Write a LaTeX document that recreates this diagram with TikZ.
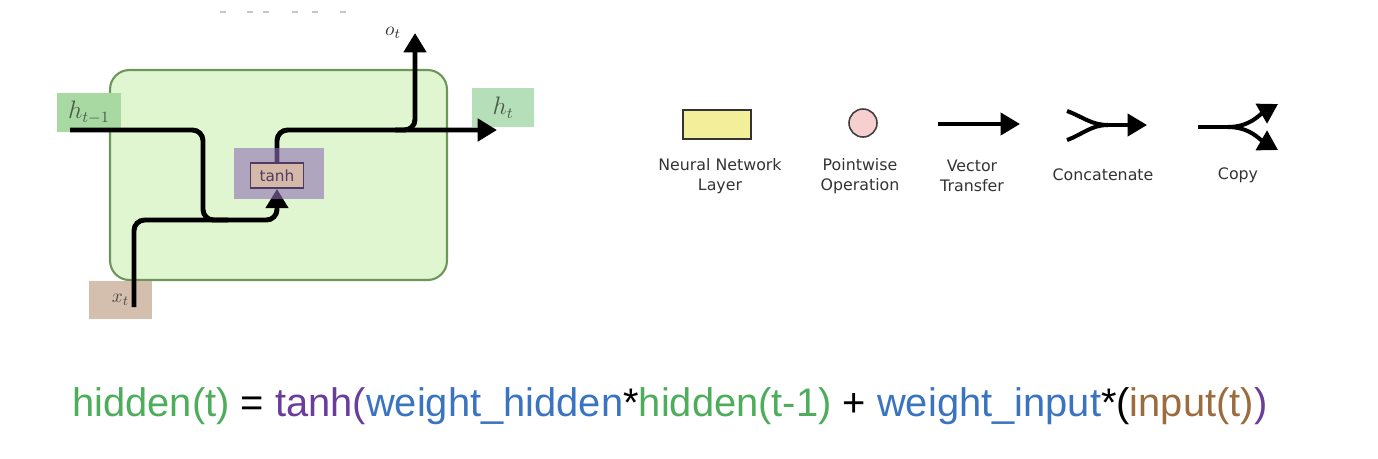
\documentclass[tikz,border=0pt]{standalone}
\usepackage{fontspec}
\newfontfamily\legendfont{DejaVu Sans}
\newfontfamily\eqfont{Liberation Sans}
\usetikzlibrary{arrows.meta}

\definecolor{cellfill}{HTML}{DFF6D0}
\definecolor{cellline}{HTML}{6E965A}
\definecolor{hinfill}{HTML}{A9D9A3}
\definecolor{houtfill}{HTML}{B4DFB8}
\definecolor{xinfill}{HTML}{D4BFAE}
\definecolor{tanhbgfill}{HTML}{8F6FB5}
\definecolor{tanhfill}{HTML}{D4B8A8}
\definecolor{tanhline}{HTML}{4F3B63}
\definecolor{labeltext}{HTML}{4B5A4B}
\definecolor{layerfill}{HTML}{F3EE9A}
\definecolor{pointfill}{HTML}{F8CFCF}
\definecolor{legtextcol}{HTML}{333333}
\definecolor{eqgreen}{HTML}{4EAD5B}
\definecolor{eqpurple}{HTML}{6A3D9A}
\definecolor{eqblue}{HTML}{3A74C0}
\definecolor{eqbrown}{HTML}{9A6C3E}

\pgfdeclarelayer{back}
\pgfdeclarelayer{front}
\pgfsetlayers{back,main,front}

\begin{document}
\begin{tikzpicture}[x=0.02cm, y=-0.02cm,
        cellbox/.style={draw=cellline, fill=cellfill, line width=1.2pt, rounded corners=11pt, minimum width=6.74cm, minimum height=4.2cm},
        labelbox/.style={text=labeltext, inner sep=0pt, font=\fontsize{13.5}{15}\selectfont},
        tanhback/.style={fill=tanhbgfill, fill opacity=0.6, minimum width=1.8cm, minimum height=1.02cm},
        tanhbox/.style={draw=tanhline, fill=tanhfill, line width=1pt, minimum width=1.06cm, minimum height=0.5cm, inner sep=0pt, text=tanhline, font=\legendfont\fontsize{8.7}{10}\selectfont},
        flow/.style={line width=2.8pt, rounded corners=6pt},
        flowarrow/.style={flow, -{Triangle[length=11pt,width=12.5pt]}},
        nnlayer/.style={draw=black!80, fill=layerfill, line width=1.1pt, minimum width=1.36cm, minimum height=0.58cm},
        pwop/.style={circle, draw=black!75, fill=pointfill, line width=0.9pt, minimum size=0.56cm, inner sep=0pt},
        legtext/.style={font=\legendfont\fontsize{9}{11.3}\selectfont, text=legtextcol, align=center},
        legline/.style={line width=2.3pt},
        legarrow/.style={legline, -{Triangle[length=11pt,width=12.5pt]}},
        faintdash/.style={draw=black!22, line width=1pt}
    ]
    \useasboundingbox (0,0) rectangle (1378,458);

    % cropped remains at the top
    \foreach \x in {223,250,266,295,315,343}
        \draw[faintdash] (\x-3,12) -- (\x+3,12);

    % the cell
    \begin{pgfonlayer}{back}
        \node[cellbox] (cell) at (278.5,175) {};
        \node[labelbox, fill=hinfill, minimum width=1.28cm, minimum height=0.78cm] (hprev) at (89,112.5) {$h_{t-1}$};
        \node[labelbox, fill=houtfill, minimum width=1.24cm, minimum height=0.78cm] (hnext) at (503,107.5) {$h_t$};
        \node[labelbox, fill=xinfill, minimum width=1.26cm, minimum height=0.76cm, text=black!70, font=\fontsize{11}{13}\selectfont] (xin) at (120.5,300) {$x_t$};
    \end{pgfonlayer}
    \begin{pgfonlayer}{front}
        \node[tanhback] (tanhbg) at (279,173.5) {};
        \node[tanhbox] (tanh) at (277,175.5) {tanh};
    \end{pgfonlayer}
    \node[text=black!80, font=\fontsize{11}{13}\selectfont] (out) at (393,33) {$o_t$};

    \coordinate (hstart) at (70,130);
    \coordinate (xstart) at (134,307);
    \coordinate (merge) at (203,220);
    \coordinate (split) at (395,130);
    \coordinate (hend) at (497,130);
    \coordinate (oend) at (415,33);

    \draw[flowarrow] (hstart) -| (merge) -| (tanh.south);
    \draw[flow] (xstart) |- (merge) -- +(25,0);
    \draw[flowarrow] (tanh.north) |- (hend);
    \draw[flowarrow] (split) -| (oend);

    % legend
    \node[nnlayer] (layer) at (717,124.5) {};
    \node[pwop] (pointwise) at (863,123) {};
    \node[legtext] (layertext) at (720,176) {Neural Network\\Layer};
    \node[legtext] (pointtext) at (860,176) {Pointwise\\Operation};
    \node[legtext] (vectortext) at (972,176) {Vector\\Transfer};
    \node[legtext] (concattext) at (1103,175) {Concatenate};
    \node[legtext] (copytext) at (1238,175) {Copy};

    \coordinate (vstart) at (938,124);
    \coordinate (vend) at (1020,124);
    \draw[legarrow] (vstart) -- (vend);

    \coordinate (ctop) at (1067,111);
    \coordinate (cbot) at (1067,140);
    \coordinate (cjoin) at (1108,125);
    \coordinate (cend) at (1147,125);
    \draw[legline] (ctop) to[out=-20,in=180] (cjoin);
    \draw[legline] (cbot) to[out=20,in=180] (cjoin);
    \draw[legarrow] (cjoin) -- (cend);

    \coordinate (pstart) at (1198,127);
    \coordinate (psplit) at (1228,127);
    \coordinate (pup) at (1278,104);
    \coordinate (pdown) at (1278,150);
    \draw[legline] (pstart) -- (psplit);
    \draw[legarrow] (psplit) to[out=0,in=210] (pup);
    \draw[legarrow] (psplit) to[out=0,in=150] (pdown);

    % the formula
    \node[anchor=base west, inner sep=0pt, font=\eqfont\fontsize{22.7}{27}\selectfont] (formula) at (72,416)
        {\color{eqgreen}hidden(t) \color{black}= \color{eqpurple}tanh(\color{eqblue}weight\_hidden\color{black}*\color{eqgreen}hidden(t-1) \color{black}+ \color{eqblue}weight\_input\color{black}*(\color{eqbrown}input(t)\color{eqpurple})};
\end{tikzpicture}
\end{document}
